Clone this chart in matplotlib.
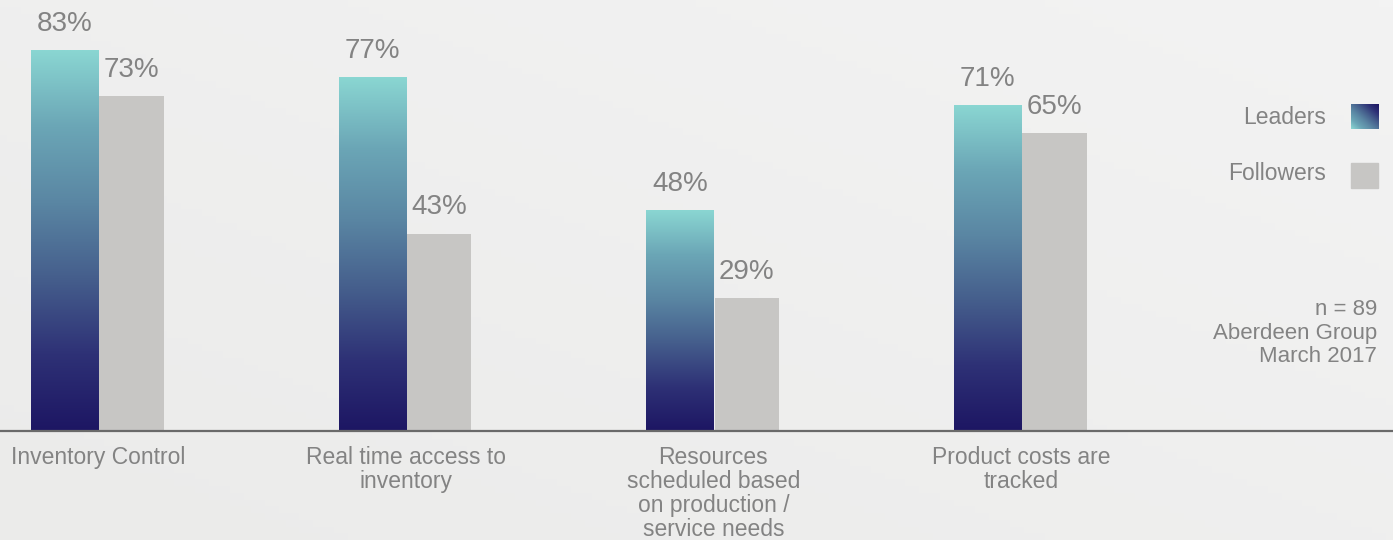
import matplotlib.pyplot as plt
import numpy as np
from matplotlib.colors import LinearSegmentedColormap
from matplotlib.patches import Rectangle

# Survey results (% of respondents)
categories = ['Inventory Control', 'Real time access to\ninventory',
              'Resources\nscheduled based\non production /\nservice needs',
              'Product costs are\ntracked']
leaders = [83, 77, 48, 71]
followers = [73, 43, 29, 65]

plt.rcParams['font.family'] = ['Liberation Sans', 'DejaVu Sans']

text_grey = '#838383'
follower_grey = '#c7c6c4'
leader_cmap = LinearSegmentedColormap.from_list(
    'leaders', ['#1d1663', '#2e3176', '#455e8c', '#5a86a3', '#6ba6b6', '#8ad6d2'])

fig = plt.figure(figsize=(13.93, 5.40), dpi=100)

# soft grey backdrop
bg = fig.add_axes([0, 0, 1, 1], zorder=-1)
gx, gy = np.meshgrid(np.linspace(0, 1, 200), np.linspace(0, 1, 80))
bg.imshow(0.5 * gx + 0.5 * gy, cmap=LinearSegmentedColormap.from_list('bg', ['#ebebea', '#f3f3f3']),
          extent=[0, 1, 0, 1], aspect='auto', origin='lower')
bg.axis('off')

ax = fig.add_axes([0, 0.2019, 1, 0.7981])
ax.patch.set_alpha(0)

x = np.arange(len(categories))
w = 0.218

grad = np.linspace(0, 1, 256).reshape(-1, 1)
for xi, val in zip(x, leaders):
    left = xi - w
    ax.imshow(grad, cmap=leader_cmap, extent=[left, xi, 0, val],
              aspect='auto', origin='lower', zorder=2)
    ax.annotate(f'{val}%', (xi - w / 2, val), xytext=(0, 14), textcoords='offset points',
                ha='center', va='baseline', fontsize=20, color=text_grey)

ax.bar(x + w / 2, followers, width=w * 0.96, color=follower_grey, zorder=2)
for xi, val in zip(x, followers):
    ax.annotate(f'{val}%', (xi + w / 2, val), xytext=(0, 14), textcoords='offset points',
                ha='center', va='baseline', fontsize=20, color=text_grey)

ax.set_xlim(-0.3185, 4.209)
ax.set_ylim(0, 94)

for s in ['top', 'left', 'right']:
    ax.spines[s].set_visible(False)
ax.spines['bottom'].set_color('#6a6a6a')
ax.spines['bottom'].set_linewidth(1.6)
ax.set_yticks([])
ax.set_xticks(x)
ax.set_xticklabels(categories, fontsize=16.5, color=text_grey, linespacing=1.05)
ax.tick_params(axis='x', length=0, pad=11)

# legend on the right
lx = 0.9695
sw = 0.0195
leg_ax = fig.add_axes([lx, 1 - 129 / 540, sw, 25 / 540])
leg_ax.imshow(np.add.outer(np.linspace(0, 1, 50), np.linspace(1, 0, 50)) / 2,
              cmap=leader_cmap, extent=[0, 1, 0, 1], aspect='auto', origin='upper')
leg_ax.axis('off')
fig.patches.append(Rectangle((lx, 1 - 188 / 540), sw, 25 / 540, transform=fig.transFigure,
                             color=follower_grey, zorder=3))
fig.text(1326 / 1393, 1 - 118 / 540, 'Leaders', ha='right', va='center',
         fontsize=16.5, color=text_grey)
fig.text(1326 / 1393, 1 - 174 / 540, 'Followers', ha='right', va='center',
         fontsize=16.5, color=text_grey)

fig.text(1377 / 1393, 1 - 333 / 540, 'n = 89\nAberdeen Group\nMarch 2017', ha='right', va='center',
         fontsize=16, color=text_grey, linespacing=1.15)

fig.savefig('out.png', dpi=100, facecolor='#eeeeee')
